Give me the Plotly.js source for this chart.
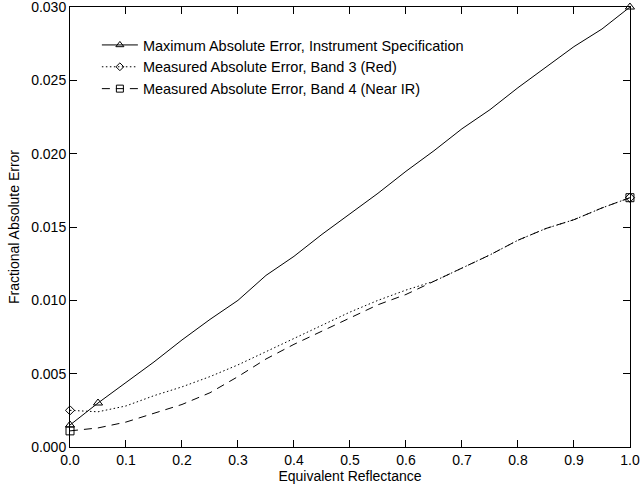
<!DOCTYPE html>
<html>
<head>
<meta charset="utf-8">
<script src="https://cdn.plot.ly/plotly-3.0.1.min.js"></script>
<style>html,body{margin:0;padding:0;background:#fff;}#chart{width:641px;height:487px;}</style>
</head>
<body>
<div id="chart"></div>
<script>
// Equivalent reflectance (x)
var reflectance = [0, 0.05, 0.1, 0.15, 0.2, 0.25, 0.3, 0.35, 0.4, 0.45, 0.5, 0.55, 0.6, 0.65, 0.7, 0.75, 0.8, 0.85, 0.9, 0.95, 1.0];
// Maximum Absolute Error, Instrument Specification
var specError = [0.0015, 0.0030, 0.0044, 0.0058, 0.0073, 0.0087, 0.0100, 0.0117, 0.0130, 0.0145, 0.0159, 0.0173, 0.0188, 0.0202, 0.0217, 0.0230, 0.0245, 0.0259, 0.0273, 0.0285, 0.0300];
// Measured Absolute Error, Band 3 (Red)
var band3Error = [0.0025, 0.0024, 0.0028, 0.0035, 0.0041, 0.0048, 0.0056, 0.0065, 0.0074, 0.0083, 0.0092, 0.0100, 0.0107, 0.0113, 0.0122, 0.0131, 0.0141, 0.0149, 0.0155, 0.0163, 0.0170];
// Measured Absolute Error, Band 4 (Near IR)
var band4Error = [0.0011, 0.0013, 0.0017, 0.0023, 0.0029, 0.0037, 0.0048, 0.0060, 0.0070, 0.0079, 0.0088, 0.0097, 0.0104, 0.0113, 0.0122, 0.0131, 0.0141, 0.0149, 0.0155, 0.0163, 0.0170];
// Indices of the plotted symbols
var specMarkIdx = [0, 1, 20];
var band3MarkIdx = [0, 20];
var band4MarkIdx = [0, 20];
var seriesNames = [
  'Maximum Absolute Error, Instrument Specification',
  'Measured Absolute Error, Band 3 (Red)',
  'Measured Absolute Error, Band 4 (Near IR)'
];
var xTicks = [0, 0.1, 0.2, 0.3, 0.4, 0.5, 0.6, 0.7, 0.8, 0.9, 1.0];
var yTicks = [0, 0.005, 0.010, 0.015, 0.020, 0.025, 0.030];

function pick(arr, idx) { return idx.map(function (i) { return arr[i]; }); }

var FONT = 'Liberation Sans, Arial, sans-serif';
var styles = [
  {dash: 'solid', symbol: 'triangle-up-open', size: 8},
  {dash: '1.5px,2.5px', symbol: 'diamond-open', size: 7},
  {dash: '8px,6px', symbol: 'square-open', size: 8}
];
var ys = [specError, band3Error, band4Error];
var idxs = [specMarkIdx, band3MarkIdx, band4MarkIdx];

var traces = [];
for (var k = 0; k < 3; k++) {
  traces.push({
    x: reflectance, y: ys[k], mode: 'lines', type: 'scatter', showlegend: false,
    line: {color: '#000', width: 1, dash: styles[k].dash}, hoverinfo: 'skip'
  });
  traces.push({
    x: pick(reflectance, idxs[k]), y: pick(ys[k], idxs[k]), mode: 'markers', type: 'scatter', showlegend: false,
    marker: {symbol: styles[k].symbol, size: styles[k].size, color: '#000', line: {width: 1, color: '#000'}},
    cliponaxis: false, hoverinfo: 'skip'
  });
}
for (var k = 0; k < 3; k++) {
  traces.push({
    x: [null], y: [null], mode: 'lines+markers', type: 'scatter', name: seriesNames[k],
    line: {color: '#000', width: 1, dash: styles[k].dash},
    marker: {symbol: styles[k].symbol, size: styles[k].size - 1, color: '#000', line: {width: 1, color: '#000'}}
  });
}

var axisCommon = {
  showline: true, linecolor: '#000', linewidth: 1, mirror: 'ticks',
  ticks: 'inside', ticklen: 7, tickcolor: '#000', tickwidth: 1,
  showgrid: false, zeroline: false, ticklabeloverflow: 'allow',
  tickfont: {family: FONT, size: 14, color: '#000'}
};

var layout = {
  width: 641, height: 487,
  margin: {l: 70, r: 11, t: 7, b: 40},
  paper_bgcolor: '#fff', plot_bgcolor: '#fff',
  font: {family: FONT, color: '#000'},
  xaxis: Object.assign({}, axisCommon, {
    range: [0, 1.0001], tickvals: xTicks, tickformat: '.1f',
    title: {text: 'Equivalent Reflectance', font: {family: FONT, size: 14, color: '#000'}, standoff: 2}
  }),
  yaxis: Object.assign({}, axisCommon, {
    range: [0, 0.030003], tickvals: yTicks, tickformat: '.3f',
    title: {text: 'Fractional Absolute Error', font: {family: FONT, size: 14, color: '#000'}, standoff: 8}
  }),
  legend: {
    x: 0.048, y: 0.95, xanchor: 'left', yanchor: 'top',
    bgcolor: 'rgba(0,0,0,0)', borderwidth: 0,
    font: {family: FONT, size: 14.5, color: '#000'},
    tracegroupgap: 0, itemwidth: 36
  },
  showlegend: true
};

Plotly.newPlot('chart', traces, layout, {displayModeBar: false, staticPlot: true});
</script>
</body>
</html>
